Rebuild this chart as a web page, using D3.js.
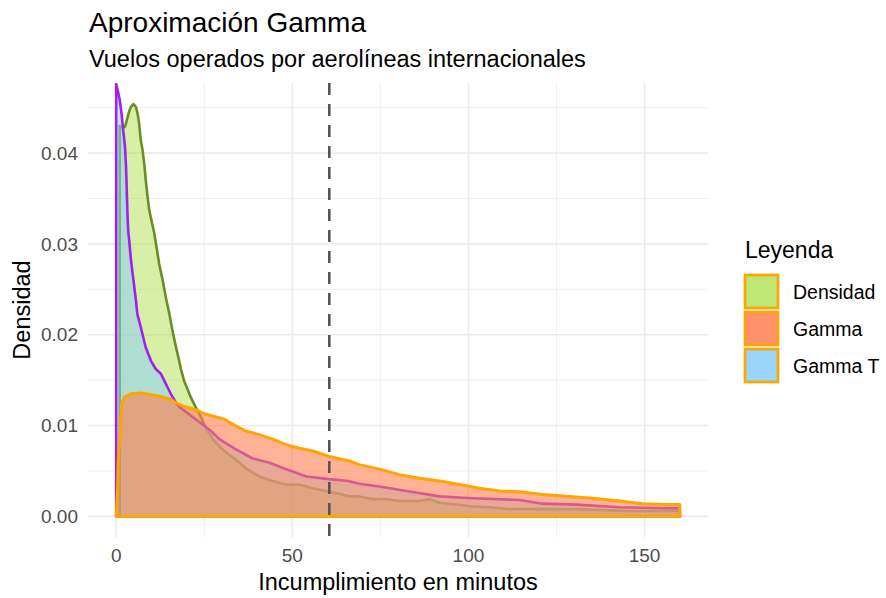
<!DOCTYPE html>
<html>
<head>
<meta charset="utf-8">
<script src="https://cdn.jsdelivr.net/npm/d3@7"></script>
<style>
  body { margin: 0; background: #fff; }
  text { font-family: "Liberation Sans", Arial, sans-serif; }
</style>
</head>
<body>
<div id="chart"></div>
<script>
// Values (minutes, density).
const densidadX = [1, 2, 2.5, 3.7, 4.2, 4.9, 5.6, 6.05, 6.5, 7, 7.5, 7.95, 8.4, 8.9, 9.4, 10,
  10.8, 11.6, 12.2, 13.2, 14.1, 15.1, 16, 17, 17.9, 18.4, 19.3, 21.2, 22.6, 24.1, 25.9, 27.8,
  30.7, 33.5, 36.8, 40.6, 44.4, 48.2, 52, 55.7, 59.6, 63.4, 66.2, 69, 72.7, 76.5, 80.4, 86,
  89, 91.8, 96.6, 101, 106, 111.6, 130.7, 145, 160];
const densidadY = [0.0430, 0.0428, 0.0429, 0.0446, 0.0451, 0.0454, 0.0451, 0.0444, 0.0433,
  0.0414, 0.0403, 0.0389, 0.0370, 0.0352, 0.0337, 0.0326, 0.0312, 0.0293, 0.0278, 0.0260,
  0.0241, 0.0223, 0.0204, 0.0186, 0.0171, 0.0162, 0.0149, 0.0131, 0.0120, 0.0109, 0.0094,
  0.0083, 0.0072, 0.0064, 0.0053, 0.0044, 0.0039, 0.0035, 0.0035, 0.0031, 0.0028, 0.0025,
  0.0022, 0.0022, 0.0019, 0.0019, 0.0017, 0.0017, 0.0019, 0.0015, 0.0013, 0.0011, 0.0010,
  0.0008, 0.0008, 0.0006, 0.0006];

const gammaX = [0, 0.4, 0.57, 1.14, 1.5, 2.27, 4.2, 7, 9.9, 12.7, 15.5, 17, 19.3, 22.2, 25,
  27.8, 30.7, 33.3, 36.8, 40.6, 44.4, 48.2, 52, 55.8, 60.5, 66.2, 69, 74.7, 80.4, 86.1, 91.8,
  97.4, 103.1, 108.8, 114.5, 121.1, 128.7, 135.3, 142.9, 149.5, 156, 160];
const gammaY = [0, 0.0031, 0.0060, 0.0094, 0.0123, 0.0131, 0.0135, 0.0136, 0.0134, 0.0132,
  0.0129, 0.0125, 0.0121, 0.0118, 0.0113, 0.0110, 0.0107, 0.0101, 0.0094, 0.0090, 0.0085,
  0.0079, 0.0075, 0.0072, 0.0066, 0.0061, 0.0057, 0.0052, 0.0046, 0.0042, 0.0039, 0.0035,
  0.0031, 0.0028, 0.0027, 0.0024, 0.0022, 0.0020, 0.0017, 0.0014, 0.0013, 0.0013];

const gammaTX = [0, 0.5, 1, 1.5, 2, 2.5, 2.8, 3, 3.2, 3.4, 3.7, 4.2, 4.9, 5.6, 6, 7, 8.4, 9.9,
  11.3, 12.7, 15.5, 17, 18.4, 22.2, 26.9, 29.3, 33.5, 38.6, 43.5, 48.3, 54, 60.5, 66, 69,
  74.7, 82.4, 91.8, 101, 114.5, 121, 130.7, 142.9, 156, 160];
const gammaTY = [0.0476, 0.0468, 0.0459, 0.0444, 0.0425, 0.0407, 0.0385, 0.0359, 0.0334,
  0.0315, 0.0304, 0.0282, 0.0260, 0.0238, 0.0223, 0.0208, 0.0186, 0.0171, 0.0162, 0.0157,
  0.0135, 0.0125, 0.0119, 0.0108, 0.0094, 0.0085, 0.0075, 0.0064, 0.0059, 0.0052, 0.0044,
  0.0041, 0.0039, 0.0036, 0.0033, 0.0028, 0.0022, 0.0020, 0.0018, 0.0014, 0.0013, 0.0010,
  0.0009, 0.0009];

const xTicks = [0, 50, 100, 150];
const xMinor = [25, 75, 125];
const yTicks = [0, 0.01, 0.02, 0.03, 0.04];
const yMinor = [0.005, 0.015, 0.025, 0.035, 0.045];
const cutoff = 60.5;

const legendNames = ['Densidad', 'Gamma', 'Gamma T'];

const width = 886;
const height = 598;
const panel = {'left': 88, 'right': 708, 'top': 83, 'bottom': 537};

const svg = d3.select('#chart')
  .append('svg')
    .attr('width', width)
    .attr('height', height);

// ggplot style 5% expansion on both axes
let x = d3.scaleLinear().domain([-8, 168]).range([panel.left, panel.right]);
let y = d3.scaleLinear().domain([-0.00227, 0.04772]).range([panel.bottom, panel.top]);

// grid
let grid = svg.append('g').attr('class', 'grid');
grid.selectAll('.ymin').data(yMinor).enter().append('line')
  .attr('x1', panel.left).attr('x2', panel.right)
  .attr('y1', (d) => y(d)).attr('y2', (d) => y(d))
  .attr('stroke', '#ebebeb').attr('stroke-width', 0.8);
grid.selectAll('.xmin').data(xMinor).enter().append('line')
  .attr('y1', panel.top).attr('y2', panel.bottom)
  .attr('x1', (d) => x(d)).attr('x2', (d) => x(d))
  .attr('stroke', '#ebebeb').attr('stroke-width', 0.8);
grid.selectAll('.ymaj').data(yTicks).enter().append('line')
  .attr('x1', panel.left).attr('x2', panel.right)
  .attr('y1', (d) => y(d)).attr('y2', (d) => y(d))
  .attr('stroke', '#ebebeb').attr('stroke-width', 1.6);
grid.selectAll('.xmaj').data(xTicks).enter().append('line')
  .attr('y1', panel.top).attr('y2', panel.bottom)
  .attr('x1', (d) => x(d)).attr('x2', (d) => x(d))
  .attr('stroke', '#ebebeb').attr('stroke-width', 1.6);

svg.append('clipPath').attr('id', 'clip')
  .append('rect')
    .attr('x', panel.left).attr('y', panel.top)
    .attr('width', panel.right - panel.left)
    .attr('height', panel.bottom - panel.top);

let area = d3.area()
  .x((d) => x(d[0]))
  .y0(y(0))
  .y1((d) => y(d[1]));

// drawing order: Densidad, Gamma T, Gamma
let series = [
  {'xs': densidadX, 'ys': densidadY, 'fill': '#a6dc3c', 'opacity': 0.45, 'stroke': '#6b8e23', 'sw': 2.6},
  {'xs': gammaTX, 'ys': gammaTY, 'fill': '#87cefa', 'opacity': 0.5, 'stroke': '#a020f0', 'sw': 2.6},
  {'xs': gammaX, 'ys': gammaY, 'fill': '#ff7f50', 'opacity': 0.6, 'stroke': '#ffa500', 'sw': 3}
];

let plot = svg.append('g').attr('clip-path', 'url(#clip)');
series.forEach((s) => {
  let pts = s.xs.map((v, i) => [v, s.ys[i]]);
  plot.append('path')
    .attr('d', area(pts))
    .attr('fill', s.fill)
    .attr('fill-opacity', s.opacity)
    .attr('stroke', s.stroke)
    .attr('stroke-width', s.sw)
    .attr('stroke-linejoin', 'round');
});

plot.append('line')
  .attr('x1', x(cutoff)).attr('x2', x(cutoff))
  .attr('y1', panel.top).attr('y2', panel.bottom)
  .attr('stroke', '#555555')
  .attr('stroke-width', 2.6)
  .attr('stroke-dasharray', '12,9');

// axes labels
svg.append('g').selectAll('text').data(yTicks).enter().append('text')
  .attr('x', 78).attr('y', (d) => y(d))
  .attr('dy', '0.35em')
  .attr('text-anchor', 'end')
  .attr('font-size', 19)
  .attr('fill', '#4d4d4d')
  .text((d) => d3.format('.2f')(d));

svg.append('g').selectAll('text').data(xTicks).enter().append('text')
  .attr('x', (d) => x(d)).attr('y', 562)
  .attr('text-anchor', 'middle')
  .attr('font-size', 19)
  .attr('fill', '#4d4d4d')
  .text((d) => d);

svg.append('text')
  .attr('x', (panel.left + panel.right) / 2).attr('y', 590)
  .attr('text-anchor', 'middle')
  .attr('font-size', 23.5)
  .text('Incumplimiento en minutos');

svg.append('text')
  .attr('transform', 'translate(30,' + ((panel.top + panel.bottom) / 2) + ') rotate(-90)')
  .attr('text-anchor', 'middle')
  .attr('font-size', 23.5)
  .text('Densidad');

// titles
svg.append('text')
  .attr('x', 89).attr('y', 32)
  .attr('font-size', 28)
  .text('Aproximación Gamma');
svg.append('text')
  .attr('x', 89).attr('y', 67)
  .attr('font-size', 23.5)
  .text('Vuelos operados por aerolíneas internacionales');

// legend
let legendFill = ['#b4e35c', '#ff7f50', '#87cefa'];
let legend = svg.append('g').attr('class', 'legend');
legend.append('text')
  .attr('x', 745).attr('y', 258)
  .attr('font-size', 23)
  .text('Leyenda');

let keys = legend.selectAll('g.key').data(legendNames).enter()
  .append('g')
    .attr('class', 'key')
    .attr('transform', (d, i) => 'translate(745,' + (275 + i * 37) + ')');
keys.append('rect')
  .attr('width', 33).attr('height', 33)
  .attr('fill', (d, i) => legendFill[i])
  .attr('fill-opacity', 0.85)
  .attr('stroke', '#ffa500')
  .attr('stroke-width', 2.7);
keys.append('text')
  .attr('x', 48).attr('y', 17)
  .attr('dy', '0.35em')
  .attr('font-size', 19.5)
  .text((d) => d);
</script>
</body>
</html>
